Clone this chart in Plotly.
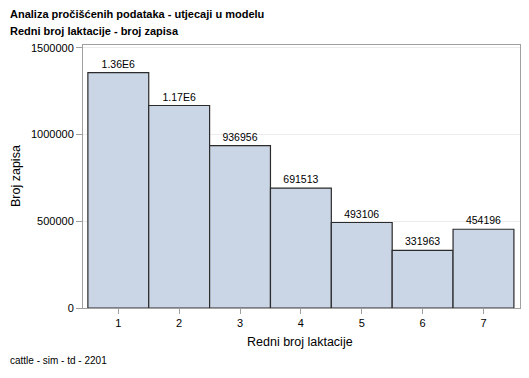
import plotly.graph_objects as go

categories = [1, 2, 3, 4, 5, 6, 7]
values = [1358000, 1168000, 936956, 691513, 493106, 331963, 454196]
value_labels = ["1.36E6", "1.17E6", "936956", "691513", "493106", "331963", "454196"]
y_ticks = [0, 500000, 1000000, 1500000]

font = "Liberation Sans, Arial, sans-serif"

# the page body adds an 8px offset; lay the figure out in page pixels minus that
OFF = 8
W, H = 529 - OFF, 378 - OFF
ML, MR, MT, MB = 83 - OFF, 9, 45 - OFF, 70
pw = W - ML - MR
ph = H - MT - MB


def px_x(x):
    return (x - OFF - ML) / pw


def px_y(y):
    return (H - MB - (y - OFF)) / ph


fig = go.Figure(go.Bar(
    x=categories, y=values, width=1.0,
    marker=dict(color="#CAD5E5", line=dict(color="#2b2b2b", width=1.2)),
    text=value_labels, textposition="outside", cliponaxis=False,
    textfont=dict(family=font, size=10.5, color="#000000"),
))

fig.update_layout(
    template="none",
    width=W, height=H,
    margin=dict(l=ML, r=MR, t=MT, b=MB, autoexpand=False),
    plot_bgcolor="white", paper_bgcolor="white",
    showlegend=False,
    font=dict(family=font, color="#000000"),
    annotations=[
        dict(text="<b>Analiza pročišćenih podataka - utjecaji u modelu</b>",
             xref="paper", yref="paper", x=px_x(8), y=px_y(14), xanchor="left", yanchor="middle",
             showarrow=False, font=dict(size=11)),
        dict(text="<b>Redni broj laktacije - broj zapisa</b>",
             xref="paper", yref="paper", x=px_x(8), y=px_y(31), xanchor="left", yanchor="middle",
             showarrow=False, font=dict(size=11)),
        dict(text="cattle - sim - td - 2201",
             xref="paper", yref="paper", x=px_x(8), y=px_y(360), xanchor="left", yanchor="middle",
             showarrow=False, font=dict(size=10)),
        dict(text="Broj zapisa", textangle=-90,
             xref="paper", yref="paper", x=px_x(16), y=px_y(176), xanchor="center", yanchor="middle",
             showarrow=False, font=dict(size=12.5)),
        dict(text="Redni broj laktacije",
             xref="paper", yref="paper", x=px_x(300), y=px_y(342), xanchor="center", yanchor="middle",
             showarrow=False, font=dict(size=12.5)),
    ],
)

fig.update_xaxes(
    range=[0.42, 7.6], tickvals=categories, ticktext=[str(c) for c in categories],
    ticks="outside", ticklen=5, tickcolor="#A0A0A0", tickwidth=1,
    showline=True, linecolor="#A0A0A0", linewidth=1, mirror=True,
    showgrid=False, zeroline=False, automargin=False,
    tickfont=dict(size=11),
)
fig.update_yaxes(
    range=[0, 1517000], tickvals=y_ticks, ticktext=[str(v) for v in y_ticks],
    ticks="outside", ticklen=6, tickcolor="#A0A0A0", tickwidth=1,
    showline=True, linecolor="#A0A0A0", linewidth=1, mirror=True,
    showgrid=True, gridcolor="#ECECEC", gridwidth=1, zeroline=False, automargin=False,
    tickfont=dict(size=11),
)

fig.write_html("out.html")
